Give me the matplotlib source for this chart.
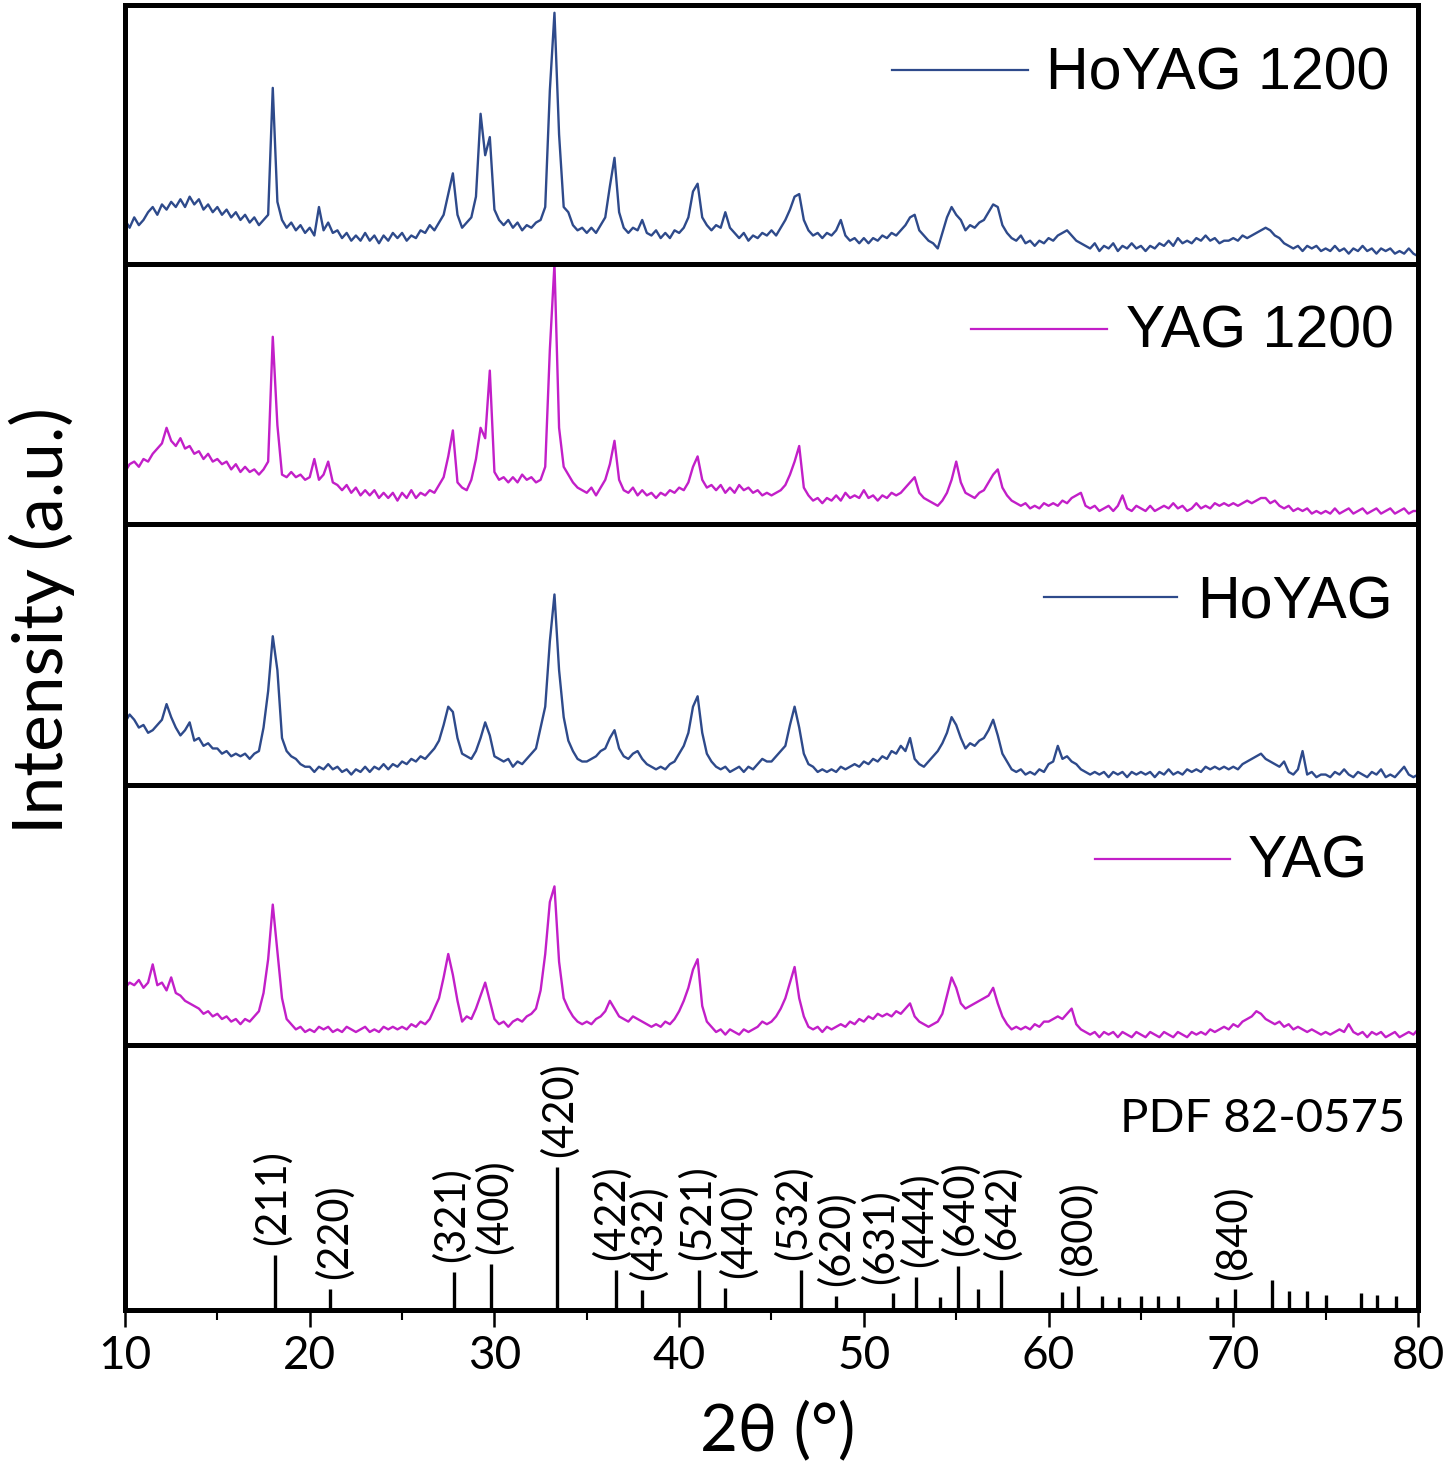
import numpy as np
import matplotlib
matplotlib.use("Agg")
import matplotlib.pyplot as plt
from matplotlib.lines import Line2D
from matplotlib.ticker import MultipleLocator

plt.rcParams["font.family"] = ["Lato", "DejaVu Sans"]

# 2θ sampling grid, 0.25° step (10 -> 80)
two_theta = np.arange(10, 80.001, 0.25)

# intensities, % of panel height, one row = 5°
hoyag_1200 = [
    17, 14, 18, 15, 17, 20, 22, 19, 23, 21, 24, 22, 25, 22, 26, 23, 25, 21, 23, 20,
    22, 19, 21, 18, 20, 17, 19, 16, 18, 15, 17, 19, 68, 24, 17, 14, 16, 13, 15, 12,
    14, 11, 22, 13, 16, 12, 13, 10, 12, 9, 11, 9, 12, 9, 11, 8, 11, 9, 12, 10,
    12, 9, 11, 10, 13, 12, 15, 13, 16, 19, 27, 35, 19, 14, 16, 18, 26, 58, 42, 49,
    21, 17, 15, 17, 14, 16, 13, 15, 14, 16, 17, 22, 67, 97, 50, 22, 20, 15, 13, 14,
    12, 14, 12, 15, 18, 30, 41, 20, 14, 12, 14, 13, 17, 12, 11, 13, 10, 12, 10, 13,
    12, 14, 18, 28, 31, 18, 15, 13, 15, 14, 20, 14, 12, 10, 12, 9, 11, 10, 12, 11,
    13, 11, 14, 17, 21, 26, 27, 17, 13, 11, 12, 10, 12, 11, 13, 17, 11, 9, 10, 8,
    10, 8, 10, 9, 11, 10, 12, 11, 13, 15, 18, 19, 13, 11, 9, 8, 6, 12, 18, 22,
    19, 17, 13, 15, 14, 16, 17, 20, 23, 22, 15, 12, 10, 9, 11, 8, 9, 7, 9, 8,
    10, 9, 11, 12, 13, 11, 9, 8, 7, 6, 8, 5, 7, 6, 8, 5, 7, 6, 8, 6,
    7, 5, 7, 6, 8, 7, 9, 7, 10, 8, 9, 8, 10, 9, 11, 9, 10, 8, 9, 9,
    10, 9, 11, 10, 11, 12, 13, 14, 13, 11, 10, 8, 7, 6, 7, 5, 7, 6, 7, 5,
    6, 5, 7, 5, 6, 4, 6, 5, 7, 5, 6, 4, 6, 5, 6, 4, 5, 4, 6, 4,
    3]

yag_1200 = [
    20, 23, 24, 22, 25, 24, 27, 29, 31, 37, 32, 30, 33, 29, 30, 27, 28, 25, 27, 24,
    25, 23, 24, 21, 23, 20, 22, 20, 21, 19, 21, 24, 72, 38, 19, 18, 20, 18, 19, 17,
    18, 25, 17, 19, 24, 16, 15, 13, 15, 12, 14, 11, 13, 11, 13, 10, 12, 10, 12, 9,
    12, 10, 13, 10, 12, 11, 13, 12, 15, 18, 26, 36, 16, 14, 13, 17, 25, 37, 33, 59,
    20, 17, 18, 16, 18, 16, 19, 17, 18, 16, 17, 22, 67, 100, 37, 22, 19, 16, 14, 13,
    12, 14, 11, 14, 17, 23, 32, 17, 13, 12, 14, 11, 13, 11, 12, 10, 12, 11, 13, 12,
    14, 13, 16, 22, 26, 17, 14, 15, 13, 15, 12, 14, 12, 15, 13, 14, 12, 13, 11, 12,
    11, 12, 13, 15, 19, 24, 30, 14, 11, 9, 10, 8, 10, 9, 11, 9, 12, 10, 11, 10,
    13, 10, 11, 9, 11, 10, 12, 11, 12, 14, 16, 18, 12, 10, 9, 8, 7, 9, 12, 17,
    24, 16, 12, 11, 10, 12, 13, 16, 19, 21, 14, 11, 9, 8, 7, 8, 6, 7, 6, 8,
    7, 8, 7, 9, 8, 10, 11, 12, 7, 6, 7, 5, 6, 7, 5, 7, 11, 6, 5, 7,
    6, 5, 7, 5, 6, 7, 6, 8, 6, 7, 5, 6, 8, 6, 7, 6, 8, 7, 8, 7,
    8, 7, 8, 9, 8, 9, 10, 10, 8, 9, 7, 6, 7, 5, 6, 5, 6, 4, 5, 4,
    5, 4, 6, 4, 5, 6, 4, 5, 6, 4, 5, 6, 4, 5, 6, 4, 5, 6, 4, 5,
    5]

hoyag = [
    24, 27, 25, 22, 23, 20, 21, 23, 25, 31, 26, 22, 19, 21, 24, 17, 18, 15, 16, 14,
    14, 12, 13, 11, 12, 11, 12, 10, 12, 13, 22, 36, 57, 44, 18, 13, 11, 10, 8, 7,
    7, 5, 7, 6, 8, 6, 7, 5, 6, 4, 6, 5, 7, 5, 7, 6, 8, 6, 8, 7,
    9, 8, 10, 9, 11, 10, 12, 14, 17, 23, 30, 28, 18, 12, 11, 10, 13, 18, 24, 19,
    11, 10, 9, 10, 7, 9, 8, 10, 12, 14, 22, 30, 55, 73, 44, 26, 17, 13, 10, 9,
    9, 10, 11, 13, 14, 18, 21, 14, 11, 10, 12, 13, 10, 8, 7, 6, 7, 6, 8, 9,
    12, 15, 20, 30, 34, 20, 12, 9, 7, 6, 7, 5, 6, 7, 5, 7, 6, 8, 10, 9,
    9, 11, 13, 15, 23, 30, 22, 12, 8, 7, 5, 6, 5, 6, 5, 7, 6, 7, 8, 7,
    9, 8, 10, 9, 11, 10, 13, 12, 15, 13, 18, 10, 8, 7, 9, 11, 13, 16, 20, 26,
    23, 18, 14, 16, 15, 17, 18, 21, 25, 19, 12, 9, 6, 5, 6, 4, 5, 4, 6, 5,
    8, 9, 15, 10, 11, 9, 8, 6, 5, 4, 5, 4, 5, 3, 5, 4, 5, 3, 5, 4,
    5, 4, 5, 3, 5, 4, 6, 4, 5, 4, 6, 5, 6, 5, 7, 6, 7, 6, 7, 6,
    7, 6, 8, 9, 10, 11, 12, 10, 9, 8, 7, 9, 5, 4, 6, 13, 4, 5, 3, 4,
    4, 3, 5, 4, 6, 4, 3, 5, 4, 3, 5, 4, 6, 3, 4, 3, 5, 7, 4, 3,
    4]

yag = [
    22, 24, 23, 25, 22, 24, 31, 23, 24, 21, 26, 20, 19, 17, 16, 15, 14, 12, 13, 11,
    12, 10, 11, 9, 10, 8, 10, 9, 11, 13, 20, 33, 54, 36, 18, 10, 8, 6, 7, 5,
    6, 5, 7, 6, 7, 5, 6, 5, 7, 6, 5, 6, 7, 5, 6, 5, 7, 6, 7, 6,
    7, 6, 8, 7, 9, 8, 10, 14, 18, 26, 35, 27, 17, 9, 11, 10, 14, 19, 24, 17,
    10, 8, 9, 7, 9, 10, 9, 11, 12, 14, 21, 35, 55, 61, 32, 18, 14, 11, 9, 8,
    9, 8, 10, 11, 13, 17, 14, 11, 10, 9, 11, 10, 9, 8, 7, 8, 7, 9, 8, 10,
    13, 17, 22, 29, 33, 15, 9, 7, 5, 6, 4, 6, 5, 4, 6, 5, 6, 7, 9, 8,
    9, 11, 14, 18, 24, 30, 18, 11, 7, 6, 7, 5, 7, 6, 7, 8, 7, 9, 8, 10,
    9, 11, 10, 12, 11, 12, 11, 13, 12, 14, 16, 11, 9, 8, 7, 8, 9, 12, 19, 26,
    22, 16, 14, 15, 16, 17, 18, 19, 22, 16, 11, 8, 6, 7, 6, 7, 6, 8, 7, 9,
    9, 10, 11, 10, 12, 14, 8, 6, 5, 4, 5, 3, 5, 4, 5, 3, 5, 4, 3, 5,
    4, 3, 5, 4, 3, 5, 4, 3, 5, 4, 3, 5, 4, 5, 4, 6, 5, 6, 7, 6,
    8, 7, 9, 10, 11, 13, 12, 10, 9, 8, 9, 7, 8, 6, 7, 6, 5, 6, 5, 4,
    5, 4, 5, 6, 5, 8, 5, 4, 5, 3, 5, 4, 5, 3, 4, 5, 3, 4, 5, 4,
    6]

series = [hoyag_1200, yag_1200, hoyag, yag]
series_names = ["HoYAG 1200", "YAG 1200", "HoYAG", "YAG"]
NAVY, MAGENTA = "#2E4A8B", "#C21FC8"
series_colors = [NAVY, MAGENTA, NAVY, MAGENTA]

# PDF 82-0575 stick pattern, relative intensity ((420) = 100)
pdf_pos = [18.1, 21.1, 27.8, 29.8, 33.4, 36.6, 38.0, 41.1, 42.5, 46.6, 48.5,
           51.6, 52.8, 54.1, 55.1, 56.2, 57.4, 60.7, 61.6, 62.9, 63.8, 65.0,
           65.9, 67.0, 69.1, 70.1, 72.1, 73.0, 74.0, 75.0, 76.9, 77.8, 78.8]
pdf_int = [38.7, 15, 26.6, 32, 100, 27.8, 13.9, 27.8, 15.7, 27.8, 10,
           11.6, 23, 8.8, 30.8, 14.4, 28, 12.7, 16.9, 10, 9.3, 10,
           10, 10, 8.8, 14.4, 21, 13, 13, 10.4, 11.6, 10.4, 10]
hkl_labels = ["(211)", "(220)", "(321)", "(400)", "(420)", "(422)", "(432)",
              "(521)", "(440)", "(532)", "(620)", "(631)", "(444)", "(640)",
              "(642)", "(800)", "(840)"]
hkl_pos = [18.1, 21.1, 27.8, 29.8, 33.4, 36.6, 38.0, 41.1, 42.5, 46.6, 48.5,
           51.6, 52.8, 55.1, 57.4, 61.6, 70.1]

# ---- layout (pixels of the 1450x1468 canvas) ----
W, H = 1450, 1468
X0, X1 = 125, 1418
BORDERS = [5, 264, 524, 785, 1045, 1310]
SPINE_LW = 3.6

fig = plt.figure(figsize=(W / 100, H / 100), dpi=100)


def panel(i):
    top, bot = BORDERS[i], BORDERS[i + 1]
    ax = fig.add_axes([X0 / W, 1 - bot / H, (X1 - X0) / W, (bot - top) / H])
    ax.set_xlim(10, 80)
    for s in ax.spines.values():
        s.set_linewidth(SPINE_LW)
        s.set_color("black")
    ax.set_yticks([])
    return ax


# legend line x0, x1, y ; text x, baseline y
legend_px = [(892, 1028, 70, 1046, 90), (971, 1107, 329, 1126, 348),
             (1044, 1177, 597, 1197, 618), (1095, 1230, 859, 1248, 878)]

for i, (y, name, col) in enumerate(zip(series, series_names, series_colors)):
    ax = panel(i)
    ax.plot(two_theta, y, color=col, lw=1.7)
    ax.set_ylim(0, 100)
    ax.set_xticks([])
    lx0, lx1, ly, tx, ty = legend_px[i]
    fig.add_artist(Line2D([lx0 / W, lx1 / W], [1 - ly / H, 1 - ly / H],
                          transform=fig.transFigure, color=col, lw=1.6))
    fig.text(tx / W, 1 - ty / H, name, ha="left", va="baseline",
             fontsize=42.5, family=["Liberation Sans", "DejaVu Sans"])

# reference pattern
ax = panel(4)
ax.vlines(pdf_pos, 0, pdf_int, color="black", lw=2.4)
ax.set_ylim(0, 185)
nudge = [-0.14, 0.2, -0.15, 0.2, 0.1, -0.3, 0.3, -0.15, 0.7, -0.45, 0.0,
         -0.7, 0.2, 0.1, 0.1, 0.0, -0.1]
for lab, p, dx in zip(hkl_labels, hkl_pos, nudge):
    h = pdf_int[pdf_pos.index(p)]
    ax.annotate(lab, (p + dx, h), xytext=(0, 7), textcoords="offset points",
                rotation=90, ha="center", va="bottom", fontsize=30)
ax.text((1405 - X0) / (X1 - X0), 0.672, "PDF 82-0575", transform=ax.transAxes,
        ha="right", va="baseline", fontsize=34)

ax.xaxis.set_major_locator(MultipleLocator(10))
ax.xaxis.set_minor_locator(MultipleLocator(5))
ax.tick_params(axis="x", which="major", direction="out", length=12, width=1.8,
               labelsize=33, pad=6)
ax.tick_params(axis="x", which="minor", direction="out", length=7, width=1.5)

fig.text(778 / W, 1 - 1450 / H, "2θ (°)", ha="center", va="baseline", fontsize=47)
fig.text(42 / W, 1 - 621 / H, "Intensity (a.u.)", rotation=90,
         ha="center", va="center", fontsize=50)

fig.savefig("out.png", dpi=100)
